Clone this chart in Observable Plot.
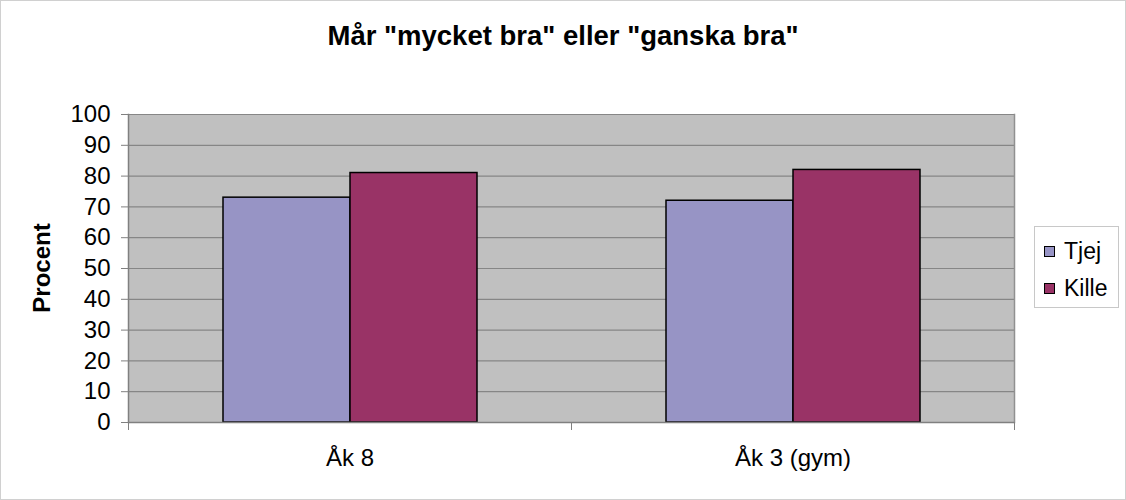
<!DOCTYPE html>
<html>
<head>
<meta charset="utf-8">
<script src="https://cdn.jsdelivr.net/npm/d3@7"></script>
<script src="https://cdn.jsdelivr.net/npm/@observablehq/plot@0.6"></script>
<style>
  html, body { margin: 0; padding: 0; background: #fff; }
  #wrap { position: relative; width: 1126px; height: 500px; font-family: "Liberation Sans", Arial, sans-serif; }
  #title { position: absolute; left: 0; width: 1126px; top: 20px; text-align: center; font-weight: bold; font-size: 27.5px; line-height: 31px; }
  #ylabel { position: absolute; left: 42px; top: 268px; transform: translate(-50%, -50%) rotate(-90deg); font-weight: bold; font-size: 24px; white-space: nowrap; }
  #legend { position: absolute; left: 1034px; top: 226px; width: 85px; height: 82px; border: 1px solid #c8c8c8; box-sizing: border-box; font-size: 23px; }
  .item { position: absolute; left: 9px; display: flex; align-items: center; }
  .sw { width: 11px; height: 11px; border: 1.5px solid #000; box-sizing: border-box; margin-right: 9px; }
  #outer { position: absolute; left: 0; top: 0; width: 1126px; height: 500px; border: 1px solid #d0d0d0; box-sizing: border-box; pointer-events: none; }
</style>
</head>
<body>
<div id="wrap">
  <div id="chart"></div>
  <div id="title"></div>
  <div id="ylabel"></div>
  <div id="legend"></div>
  <div id="outer"></div>
</div>
<script>
const title = 'Mår "mycket bra" eller "ganska bra"';
const yLabel = "Procent";
const categories = ["Åk 8", "Åk 3 (gym)"];
const series = ["Tjej", "Kille"];
const tjej = [73, 72];
const kille = [81, 82];
const yTicks = [0, 10, 20, 30, 40, 50, 60, 70, 80, 90, 100];
const colors = ["#9794C5", "#993366"];

const data = categories.flatMap((c, i) => [
  {cat: c, s: series[0], v: tjej[i]},
  {cat: c, s: series[1], v: kille[i]}
]);

const plotH = 500 - 114 - 78;

const chart = Plot.plot({
  width: 1126,
  height: 500,
  marginLeft: 127,
  marginRight: 112,
  marginTop: 114,
  marginBottom: 78,
  style: {fontFamily: "'Liberation Sans', Arial, sans-serif", fontSize: "24px", color: "black", background: "transparent"},
  fx: {domain: categories, padding: 0, label: null},
  x: {domain: series, paddingInner: 0, paddingOuter: 0.74, align: 0.5, axis: null},
  y: {domain: [0, 100], label: null},
  color: {domain: series, range: colors},
  marks: [
    Plot.frame({fill: "#C0C0C0", stroke: "#C0C0C0", strokeWidth: 1}),
    Plot.gridY(yTicks, {stroke: "#868686", strokeOpacity: 1, strokeWidth: 1.2}),
    Plot.frame({anchor: "right", facetAnchor: "right", stroke: "#909090", strokeWidth: 1.5}),
    Plot.barY(data, {fx: "cat", x: "s", y: "v", fill: "s", stroke: "black", strokeWidth: 1.5}),
    Plot.frame({anchor: "left", facetAnchor: "left", stroke: "#808080", strokeWidth: 1.5}),
    Plot.ruleY([0], {stroke: "#808080", strokeWidth: 1.5}),
    Plot.axisY(yTicks, {tickSize: 7, tickPadding: 11, stroke: "#808080", fill: "black", label: null, fontSize: 24}),
    Plot.frame({anchor: "left", stroke: "#808080", insetTop: plotH, insetBottom: -7}),
    Plot.frame({anchor: "right", stroke: "#808080", insetTop: plotH, insetBottom: -7}),
    Plot.axisFx({anchor: "bottom", tickSize: 0, tickPadding: 26, label: null, fontSize: 24, fill: "black"})
  ]
});
document.getElementById("chart").appendChild(chart);
document.getElementById("title").textContent = title;
document.getElementById("ylabel").textContent = yLabel;

const legend = document.getElementById("legend");
series.forEach((s, i) => {
  const item = document.createElement("div");
  item.className = "item";
  item.style.top = (i === 0 ? 11 : 48) + "px";
  const sw = document.createElement("div");
  sw.className = "sw";
  sw.style.background = colors[i];
  const t = document.createElement("span");
  t.textContent = s;
  item.appendChild(sw);
  item.appendChild(t);
  legend.appendChild(item);
});
</script>
</body>
</html>
